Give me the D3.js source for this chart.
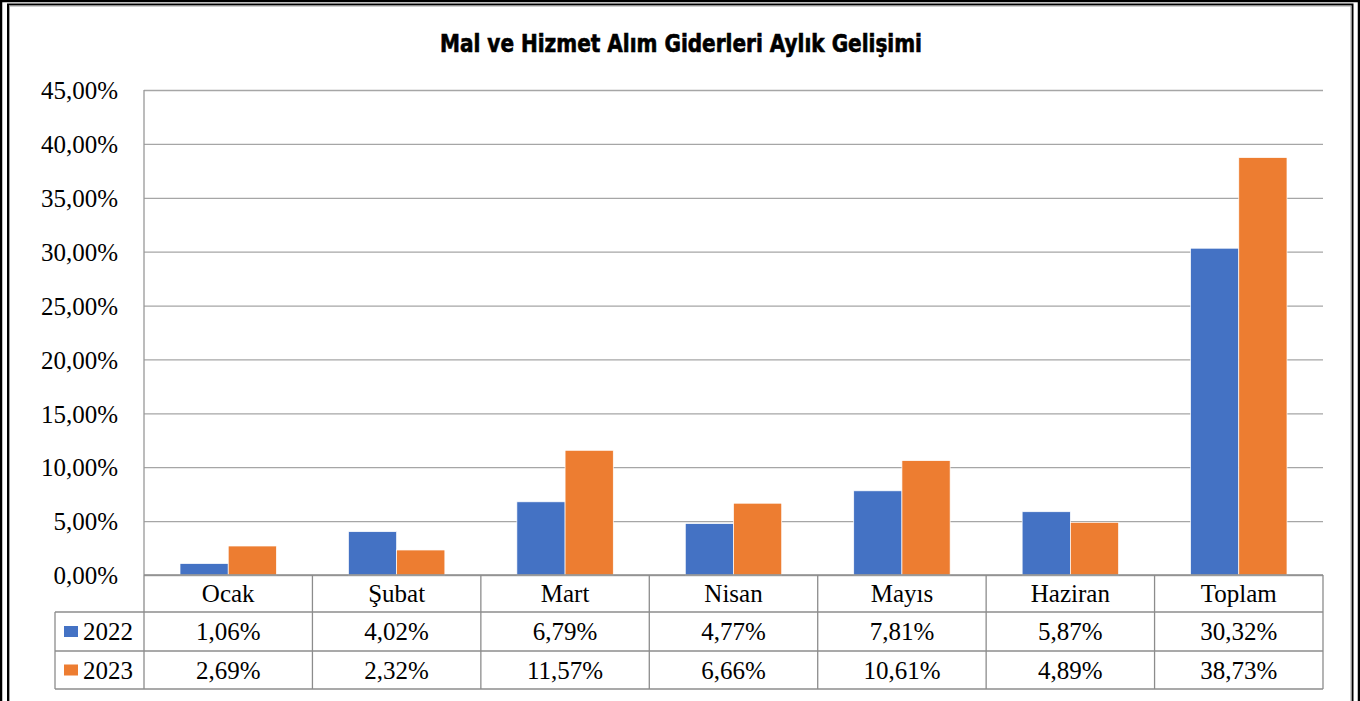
<!DOCTYPE html>
<html>
<head>
<meta charset="utf-8">
<script src="https://cdn.jsdelivr.net/npm/d3@7"></script>
<style>
  body { margin: 0; background: #fff; }
  svg { display: block; }
</style>
</head>
<body>
<div class="chart"></div>
<script>
// data
const categories = ['Ocak', 'Şubat', 'Mart', 'Nisan', 'Mayıs', 'Haziran', 'Toplam'];
const years = ['2022', '2023'];
const values2022 = [1.06, 4.02, 6.79, 4.77, 7.81, 5.87, 30.32];
const values2023 = [2.69, 2.32, 11.57, 6.66, 10.61, 4.89, 38.73];
const yTicks = [0, 5, 10, 15, 20, 25, 30, 35, 40, 45];
const colors = ['#4472C4', '#ED7D31'];

const fmt = v => v.toFixed(2).replace('.', ',') + '%';

function drawChart() {
  var W = 1360, H = 701;
  var plot = {left: 144, right: 1323, top: 90, bottom: 575};
  var rowY = [575, 612, 651, 689];
  var tableLeft = 55;
  var serif = '"Liberation Serif", "Times New Roman", serif';

  var svg = d3.select('.chart')
    .append('svg')
    .attr('width', W)
    .attr('height', H);

  // double frame round the chart
  svg.append('rect')
    .attr('x', 1).attr('y', 1)
    .attr('width', W - 2).attr('height', H + 20)
    .attr('fill', 'none').attr('stroke', '#000').attr('stroke-width', 2.5);
  svg.append('rect')
    .attr('x', 8).attr('y', 4.5)
    .attr('width', W - 15.5).attr('height', H + 20)
    .attr('fill', 'none').attr('stroke', '#000').attr('stroke-width', 2);
  svg.append('rect')
    .attr('x', 9.5).attr('y', 6)
    .attr('width', W - 18.5).attr('height', H + 20)
    .attr('fill', 'none').attr('stroke', '#a0a0a0').attr('stroke-width', 1);

  svg.append('text')
    .attr('x', 681)
    .attr('y', 52)
    .attr('text-anchor', 'middle')
    .attr('textLength', 482)
    .attr('lengthAdjust', 'spacingAndGlyphs')
    .style('font-family', '"DejaVu Sans Condensed", "DejaVu Sans", sans-serif')
    .style('font-weight', 'bold')
    .style('font-size', '24px')
    .style('stroke', '#000')
    .style('stroke-width', 0.6)
    .text('Mal ve Hizmet Alım Giderleri Aylık Gelişimi');

  var x = d3.scaleBand()
    .domain(categories)
    .range([plot.left, plot.right])
    .paddingInner(0.4275)
    .paddingOuter(0.2138);

  var x1 = d3.scaleBand()
    .domain(years)
    .range([0, x.bandwidth()]);

  var y = d3.scaleLinear()
    .domain([0, 45])
    .range([plot.bottom, plot.top]);

  // gridlines + labels
  svg.append('g')
    .attr('transform', 'translate(' + plot.left + ',0)')
    .call(d3.axisLeft(y)
      .tickValues(yTicks)
      .tickSize(-(plot.right - plot.left))
      .tickFormat(fmt)
    )
    .call(g => g.select('.domain').remove())
    .call(g => g.selectAll('.tick line')
      .attr('stroke', '#a6a6a6')
      .attr('stroke-width', 1.3))
    .call(g => g.selectAll('.tick text')
      .attr('x', -26)
      .attr('dy', '0.35em')
      .attr('fill', '#000')
      .style('font-family', serif)
      .style('font-size', '25px'));

  // bars
  var series = [values2022, values2023];
  series.forEach(function (vals, si) {
    svg.append('g')
      .selectAll('rect')
      .data(vals)
      .enter()
      .append('rect')
      .attr('x', (d, i) => x(categories[i]) + x1(years[si]))
      .attr('y', d => y(d))
      .attr('width', x1.bandwidth())
      .attr('height', d => y(0) - y(d))
      .attr('fill', colors[si])
      .attr('stroke', '#fff')
      .attr('stroke-width', 0.7);
  });

  // axis line
  svg.append('line')
    .attr('x1', plot.left).attr('x2', plot.left)
    .attr('y1', plot.top).attr('y2', plot.bottom)
    .attr('stroke', '#989898').attr('stroke-width', 1.3);

  // data table
  var step = x.step();
  var half = (step - x.bandwidth()) / 2;
  var table = svg.append('g')
    .attr('stroke', '#8c8c8c')
    .attr('stroke-width', 1.3);

  table.append('line')
    .attr('x1', plot.left).attr('x2', plot.right)
    .attr('y1', rowY[0]).attr('y2', rowY[0]);
  [1, 2, 3].forEach(function (r) {
    table.append('line')
      .attr('x1', tableLeft).attr('x2', plot.right)
      .attr('y1', rowY[r]).attr('y2', rowY[r]);
  });
  table.append('line')
    .attr('x1', tableLeft).attr('x2', tableLeft)
    .attr('y1', rowY[1]).attr('y2', rowY[3]);
  categories.forEach(function (c) {
    table.append('line')
      .attr('x1', x(c) - half + step).attr('x2', x(c) - half + step)
      .attr('y1', rowY[0]).attr('y2', rowY[3]);
  });
  table.append('line')
    .attr('x1', plot.left).attr('x2', plot.left)
    .attr('y1', rowY[0]).attr('y2', rowY[3]);

  // category labels
  svg.append('g')
    .selectAll('text')
    .data(categories)
    .enter()
    .append('text')
    .attr('x', d => x(d) + x.bandwidth() / 2)
    .attr('y', (rowY[0] + rowY[1]) / 2)
    .attr('dy', '0.35em')
    .attr('text-anchor', 'middle')
    .style('font-family', serif)
    .style('font-size', '25px')
    .text(d => d);

  // value rows
  series.forEach(function (vals, si) {
    var cy = (rowY[si + 1] + rowY[si + 2]) / 2;
    svg.append('rect')
      .attr('x', 64).attr('y', cy - 5.5)
      .attr('width', 14).attr('height', 11)
      .attr('fill', colors[si]);
    svg.append('text')
      .attr('x', 83).attr('y', cy)
      .attr('dy', '0.35em')
      .style('font-family', serif)
      .style('font-size', '25px')
      .text(years[si]);
    svg.append('g')
      .selectAll('text')
      .data(vals)
      .enter()
      .append('text')
      .attr('x', (d, i) => x(categories[i]) + x.bandwidth() / 2)
      .attr('y', cy)
      .attr('dy', '0.35em')
      .attr('text-anchor', 'middle')
      .style('font-family', serif)
      .style('font-size', '25px')
      .text(fmt);
  });
}

drawChart();
</script>
</body>
</html>
